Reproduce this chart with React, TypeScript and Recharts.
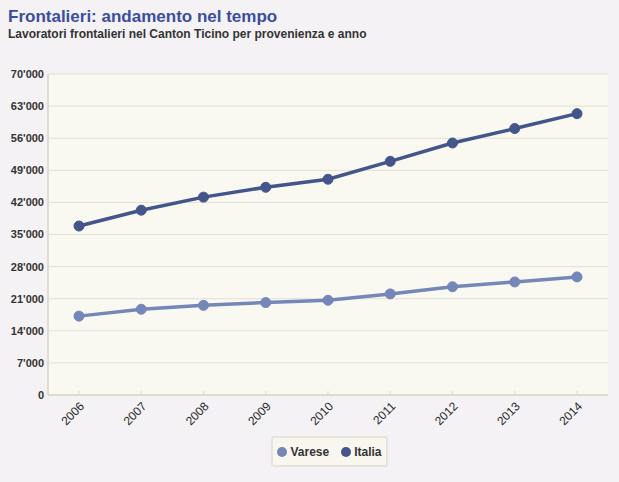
import { LineChart, Line, XAxis, YAxis, CartesianGrid, Legend } from "recharts";

const years = ["2006", "2007", "2008", "2009", "2010", "2011", "2012", "2013", "2014"];
const varese = [17200, 18700, 19550, 20150, 20650, 22050, 23600, 24650, 25750];
const italia = [36850, 40300, 43150, 45300, 47050, 50950, 54950, 58100, 61350];
const yTicks = [0, 7000, 14000, 21000, 28000, 35000, 42000, 49000, 56000, 63000, 70000];

const VARESE_COLOR = "#7587b9";
const ITALIA_COLOR = "#43558a";

const chartData = years.map((year, i) => ({
  year,
  varese: varese[i],
  italia: italia[i],
}));

const fmt = (v: number) => String(v).replace(/\B(?=(\d{3})+(?!\d))/g, "'");

function LegendBox() {
  const items = [
    { label: "Varese", color: VARESE_COLOR },
    { label: "Italia", color: ITALIA_COLOR },
  ];
  return (
    <div
      style={{
        display: "flex",
        alignItems: "center",
        justifyContent: "center",
        gap: 12,
        height: "100%",
        boxSizing: "border-box",
        border: "2px solid #e6e3d8",
        borderRadius: 3,
        background: "#f8f6ef",
        fontFamily: "'Liberation Sans', Arial, sans-serif",
        fontWeight: 700,
        fontSize: 12,
        color: "#333",
      }}
    >
      {items.map((it) => (
        <span key={it.label} style={{ display: "flex", alignItems: "center", gap: 3 }}>
          <span
            style={{
              width: 10,
              height: 10,
              borderRadius: "50%",
              background: it.color,
              display: "inline-block",
            }}
          />
          {it.label}
        </span>
      ))}
    </div>
  );
}

export default function App() {
  return (
    <div
      style={{
        position: "fixed",
        left: 0,
        top: 0,
        width: 619,
        height: 482,
        background: "#f4f2f4",
        fontFamily: "'Liberation Sans', Arial, sans-serif",
      }}
    >
      <div
        style={{
          position: "absolute",
          left: 8,
          top: 7,
          fontSize: 17,
          fontWeight: 700,
          color: "#3b4e9e",
          lineHeight: "20px",
        }}
      >
        Frontalieri: andamento nel tempo
      </div>
      <div
        style={{
          position: "absolute",
          left: 8,
          top: 27,
          fontSize: 12,
          fontWeight: 700,
          color: "#333",
          lineHeight: "14px",
        }}
      >
        Lavoratori frontalieri nel Canton Ticino per provenienza e anno
      </div>
      <div style={{ position: "absolute", left: 0, top: 0 }}>
        <LineChart
          width={619}
          height={482}
          data={chartData}
          margin={{ top: 74, right: 11, bottom: 47, left: 0 }}
        >
          <CartesianGrid vertical={false} stroke="#e3e0d3" fill="#f9f8f1" />
          <XAxis
            dataKey="year"
            height={40}
            padding={{ left: 31, right: 31 }}
            axisLine={{ stroke: "#dedbce", strokeWidth: 2 }}
            tickLine={{ stroke: "#dedbce" }}
            tickSize={-4}
            tickMargin={10}
            tick={{ fontSize: 12, fill: "#2a2a2a", angle: -45, textAnchor: "end" }}
            interval={0}
          />
          <YAxis
            width={48}
            domain={[0, 70000]}
            ticks={yTicks}
            tickFormatter={fmt}
            axisLine={{ stroke: "#e0ddd0", strokeWidth: 2 }}
            tickLine={false}
            tickSize={0}
            tickMargin={4}
            tick={{ fontSize: 11, fill: "#333", fontWeight: 700 }}
          />
          <YAxis
            yAxisId="right"
            orientation="right"
            width={0}
            domain={[0, 70000]}
            tick={false}
            tickLine={false}
            axisLine={{ stroke: "#e0ddd0", strokeWidth: 2 }}
          />
          <Legend
            layout="horizontal"
            verticalAlign="middle"
            align="center"
            wrapperStyle={{ top: 436, left: 271, width: 117, height: 31 }}
            content={() => <LegendBox />}
          />
          <Line
            dataKey="varese"
            name="Varese"
            stroke={VARESE_COLOR}
            strokeWidth={3.5}
            dot={{ r: 5, fill: VARESE_COLOR, stroke: VARESE_COLOR, strokeWidth: 1 }}
            isAnimationActive={false}
          />
          <Line
            dataKey="italia"
            name="Italia"
            stroke={ITALIA_COLOR}
            strokeWidth={3.5}
            dot={{ r: 5, fill: ITALIA_COLOR, stroke: ITALIA_COLOR, strokeWidth: 1 }}
            isAnimationActive={false}
          />
        </LineChart>
      </div>
    </div>
  );
}
